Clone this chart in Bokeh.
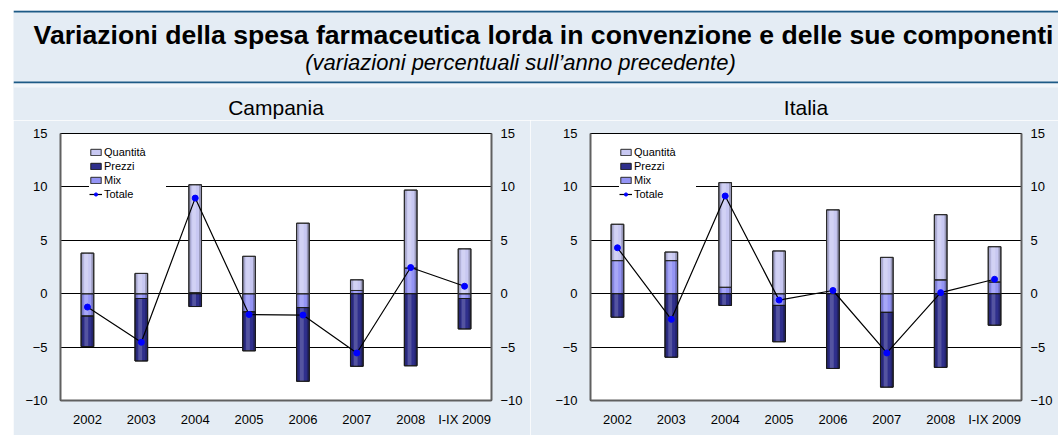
from bokeh.plotting import figure
from bokeh.models import (Range1d, FactorRange, LinearAxis, FixedTicker, Legend,
                          LegendItem, Span, Label, BoxAnnotation, ColumnDataSource, Spacer)
from bokeh.layouts import column, row
from bokeh.transform import dodge
from bokeh.embed import file_html
from bokeh.resources import INLINE

# ---------------- data ----------------
categories = ["2002", "2003", "2004", "2005", "2006", "2007", "2008", "I-IX 2009"]

campania_quantita = [3.8, 1.9, 10.1, 3.5, 6.6, 1.0, 7.3, 4.2]
campania_prezzi = [-2.85, -5.85, -1.2, -3.65, -6.9, -6.8, -6.75, -2.85]
campania_mix = [-2.1, -0.45, 0.1, -1.7, -1.3, 0.3, 2.4, -0.45]
campania_totale = [-1.25, -4.55, 8.95, -1.95, -2.0, -5.55, 2.45, 0.7]

italia_quantita = [3.4, 0.8, 9.8, 4.0, 7.85, 3.4, 6.1, 3.3]
italia_prezzi = [-2.2, -5.95, -1.1, -3.4, -7.0, -7.0, -6.9, -2.95]
italia_mix = [3.1, 3.1, 0.6, -1.1, 0.0, -1.75, 1.3, 1.1]
italia_totale = [4.3, -2.4, 9.15, -0.6, 0.3, -5.55, 0.1, 1.35]

title_text = "Variazioni della spesa farmaceutica lorda in convenzione e delle sue componenti"
subtitle_text = "(variazioni percentuali sull\u2019anno precedente)"
panel_titles = ["Campania", "Italia"]
series_names = ["Quantit\u00e0", "Prezzi", "Mix", "Totale"]
y_ticks = [-10, -5, 0, 5, 10, 15]

# ---------------- style ----------------
BG = "#e4ecf4"
LINE_BLUE = "#1d5a86"
FONT = "Liberation Sans"
C_Q = "#c8c8f2"
C_P = "#2f2f8c"
C_M = "#9494f4"

HEADER_W = 1045
HEADER_H = 110
CHART_H = 315
BAR_W = 0.235
EDGE_W = 0.045


def stack(mix, qua, pre):
    """Excel-like stacking: positives and negatives stacked separately,
    in the order Mix, Quantita, Prezzi."""
    out = {k: ([], []) for k in ("mix", "qua", "pre")}
    for i in range(len(mix)):
        pos, neg = 0.0, 0.0
        for key, v in (("mix", mix[i]), ("qua", qua[i]), ("pre", pre[i])):
            if v >= 0:
                b, t = pos, pos + v
                pos = t
            else:
                t, b = neg, neg + v
                neg = b
            out[key][0].append(b)
            out[key][1].append(t)
    return out


def make_chart(qua, pre, mix, tot, width, mbl, mbr):
    p = figure(width=width, height=CHART_H, x_range=FactorRange(*categories),
               y_range=Range1d(-10, 15), output_backend="svg", toolbar_location=None,
               min_border_left=mbl, min_border_right=mbr, min_border_top=13,
               min_border_bottom=35, background_fill_color="white",
               border_fill_color=BG)

    p.outline_line_color = "#000000"
    p.outline_line_width = 1

    p.xgrid.visible = False
    p.ygrid.ticker = FixedTicker(ticks=[-5, 0, 5, 10])
    p.ygrid.grid_line_color = "#000000"
    p.ygrid.grid_line_width = 1

    p.yaxis.ticker = FixedTicker(ticks=y_ticks)
    right = LinearAxis(ticker=FixedTicker(ticks=y_ticks))
    p.add_layout(right, "right")
    for ax in p.yaxis:
        ax.major_tick_out = 0
        ax.major_tick_in = 0
        ax.minor_tick_out = 0
        ax.minor_tick_in = 0
        ax.axis_line_color = "#606060"
        ax.axis_line_width = 2
        ax.major_label_text_font = FONT
        ax.major_label_text_font_size = "13px"
        ax.major_label_text_color = "#000000"
    p.yaxis[0].major_label_standoff = 13
    right.major_label_standoff = 9

    xa = p.xaxis[0]
    xa.major_tick_out = 0
    xa.major_tick_in = 0
    xa.axis_line_color = "#606060"
    xa.axis_line_width = 2
    xa.major_label_text_font = FONT
    xa.major_label_text_font_size = "13px"
    xa.major_label_text_color = "#000000"
    xa.major_label_standoff = 11

    st = stack(mix, qua, pre)
    src = ColumnDataSource(dict(
        x=categories,
        mb=st["mix"][0], mt=st["mix"][1],
        qb=st["qua"][0], qt=st["qua"][1],
        pb=st["pre"][0], pt=st["pre"][1],
        tot=tot))

    renderers = {}
    for key, col, lc in (("m", C_M, "#2a2a2a"), ("q", C_Q, "#2a2a2a"), ("p", C_P, "#1a1a1a")):
        renderers[key] = p.vbar(x="x", bottom=key + "b", top=key + "t", width=BAR_W,
                                source=src, fill_color=col, line_color=lc, line_width=1)
        # cylinder-like shading: darker edges, lighter centre
        off = BAR_W / 2 - EDGE_W / 2
        for dx, a in ((-off, 0.16), (off, 0.24)):
            p.vbar(x=dodge("x", dx, range=p.x_range), bottom=key + "b", top=key + "t",
                   width=EDGE_W, source=src, fill_color="#000000", fill_alpha=a,
                   line_color=None)
        p.vbar(x=dodge("x", -0.02, range=p.x_range), bottom=key + "b", top=key + "t",
               width=0.07, source=src, fill_color="#ffffff", fill_alpha=0.18,
               line_color=None)
        p.vbar(x="x", bottom=key + "b", top=key + "t", width=BAR_W, source=src,
               fill_alpha=0, line_color=lc, line_width=1)

    r_l = p.line(x="x", y="tot", source=src, line_color="#000000", line_width=1.2)
    r_s = p.scatter(x="x", y="tot", source=src, size=6, fill_color="#0000ff",
                    line_color="#0000ff", marker="circle")

    legend = Legend(items=[
        LegendItem(label=series_names[0], renderers=[renderers["q"]]),
        LegendItem(label=series_names[1], renderers=[renderers["p"]]),
        LegendItem(label=series_names[2], renderers=[renderers["m"]]),
        LegendItem(label=series_names[3], renderers=[r_l, r_s]),
    ], location=(29, 199), orientation="vertical", padding=4, spacing=0,
        margin=0, glyph_width=13, glyph_height=8, label_height=14,
        label_standoff=2, label_width=62, label_text_font=FONT,
        label_text_font_size="11px", label_text_color="#000000",
        background_fill_color="white", background_fill_alpha=1.0,
        border_line_color=None)
    p.add_layout(legend)
    return p


# ---------------- header (title, subtitle, panel titles) ----------------
header = figure(width=HEADER_W, height=HEADER_H, x_range=Range1d(0, HEADER_W),
                y_range=Range1d(0, HEADER_H), output_backend="svg",
                toolbar_location=None, min_border=0, x_axis_type=None, y_axis_type=None,
                background_fill_color=BG, border_fill_color=BG, outline_line_color=None)
header.grid.visible = False
header.add_layout(Span(location=109, dimension="width", line_color=LINE_BLUE, line_width=2))
header.add_layout(Span(location=38, dimension="width", line_color=LINE_BLUE, line_width=2))
header.add_layout(BoxAnnotation(bottom=33, top=37, fill_color="#f2f6fa", fill_alpha=1,
                                line_alpha=0))
header.add_layout(Label(x=530, y=86, text=title_text, text_align="center",
                        text_baseline="alphabetic", text_font=FONT,
                        text_font_size="26.6px", text_font_style="bold",
                        text_color="#000000"))
header.add_layout(Label(x=507, y=58, text=subtitle_text, text_align="center",
                        text_baseline="middle", text_font=FONT,
                        text_font_size="22px", text_font_style="italic",
                        text_color="#000000"))
header.add_layout(Label(x=262.5, y=13, text=panel_titles[0], text_align="center",
                        text_baseline="middle", text_font=FONT,
                        text_font_size="21px", text_color="#000000"))
header.add_layout(Label(x=792.5, y=13, text=panel_titles[1], text_align="center",
                        text_baseline="middle", text_font=FONT,
                        text_font_size="21px", text_color="#000000"))

left = make_chart(campania_quantita, campania_prezzi, campania_mix,
                  campania_totale, 517, 47, 39)
right = make_chart(italia_quantita, italia_prezzi, italia_mix,
                   italia_totale, 528, 60, 37)

layout = column(Spacer(height=10, width=1058),
                row(Spacer(width=13, height=HEADER_H), header),
                row(Spacer(width=13, height=CHART_H), left, right))

open("out.html", "w").write(file_html(layout, INLINE))
